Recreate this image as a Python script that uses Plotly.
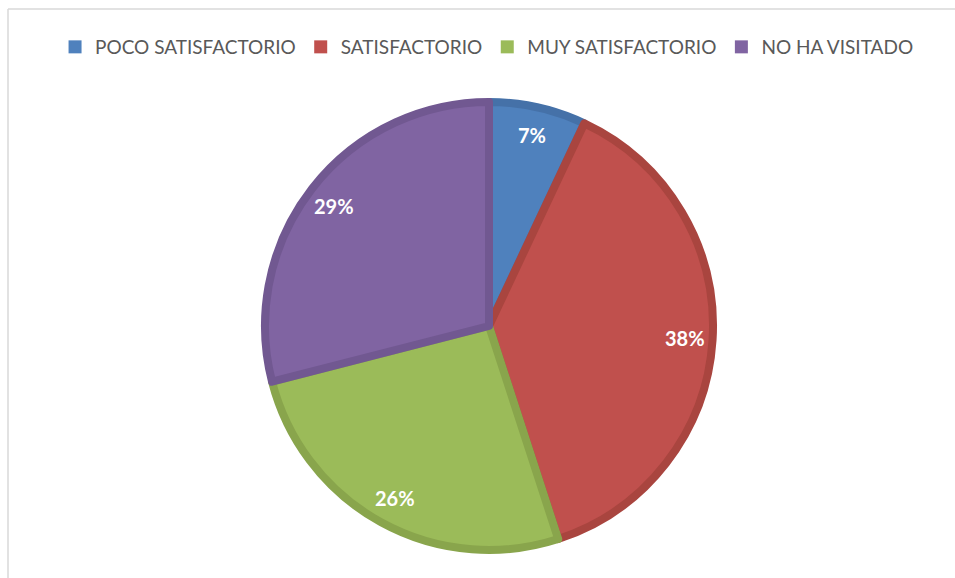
import math
import plotly.graph_objects as go

# Survey answers and their shares (%)
categories = ["POCO SATISFACTORIO", "SATISFACTORIO", "MUY SATISFACTORIO", "NO HA VISITADO"]
shares = [7, 38, 26, 29]
fill_colors = ["#4F81BD", "#C0504D", "#9BBB59", "#8064A2"]
edge_colors = ["#4571A8", "#A9453F", "#89A54C", "#715891"]

W, H = 955, 578
cx, cy, R = 489, 326, 228
edge_w = 8
r_fill = R - edge_w / 2

fig = go.Figure()
fig.add_trace(go.Pie(
    labels=categories,
    values=shares,
    sort=False,
    direction="clockwise",
    rotation=0,
    marker=dict(colors=fill_colors, line=dict(color=edge_colors, width=edge_w)),
    textinfo="none",
    hoverinfo="label+percent",
    showlegend=False,
    domain=dict(x=[(cx - r_fill) / W, (cx + r_fill) / W],
                y=[1 - (cy + r_fill) / H, 1 - (cy - r_fill) / H]),
))

# Legend entries with solid square swatches
for name, col in zip(categories, fill_colors):
    fig.add_trace(go.Scatter(
        x=[None], y=[None], mode="markers", name=name,
        marker=dict(symbol="square", size=13, color=col, line=dict(width=0)),
        showlegend=True, hoverinfo="skip",
    ))

# Percentage labels along each slice's mid-angle
annotations = []
total = sum(shares)
cum = 0
for v in shares:
    mid = (cum + v / 2) / total * 2 * math.pi
    cum += v
    rr = 0.86 * R
    px = cx + rr * math.sin(mid)
    py = cy - rr * math.cos(mid)
    annotations.append(dict(
        x=px / W, y=1 - py / H, xref="paper", yref="paper",
        xanchor="center", yanchor="middle",
        text=f"<b>{v}%</b>", showarrow=False,
        font=dict(family="Lato, Open Sans, sans-serif", size=20, color="white"),
    ))

# Stray heading glyph cut off at the top edge
annotations.append(dict(
    x=122 / W, y=1 + 14 / H, xref="paper", yref="paper",
    xanchor="center", yanchor="bottom", text="Q", showarrow=False,
    font=dict(family="Liberation Serif", size=22, color="black"),
))

# Light chart-area frame (top and left edges)
shapes = [
    dict(type="line", xref="paper", yref="paper",
         x0=8 / W, x1=1, y0=1 - 9 / H, y1=1 - 9 / H,
         line=dict(color="#D9D9D9", width=1.5)),
    dict(type="line", xref="paper", yref="paper",
         x0=8 / W, x1=8 / W, y0=1 - 9 / H, y1=0,
         line=dict(color="#D9D9D9", width=1.5)),
]

fig.update_layout(
    width=W, height=H,
    margin=dict(l=0, r=0, t=0, b=0),
    paper_bgcolor="white",
    plot_bgcolor="white",
    xaxis=dict(visible=False),
    yaxis=dict(visible=False),
    showlegend=True,
    legend=dict(
        orientation="h", x=0.51, xanchor="center", y=1 - 47 / H, yanchor="middle",
        font=dict(family="Lato, Open Sans, sans-serif", size=19, color="#595959"),
        itemwidth=30, traceorder="normal", bgcolor="rgba(0,0,0,0)",
    ),
    annotations=annotations,
    shapes=shapes,
)

fig.write_html("out.html")
